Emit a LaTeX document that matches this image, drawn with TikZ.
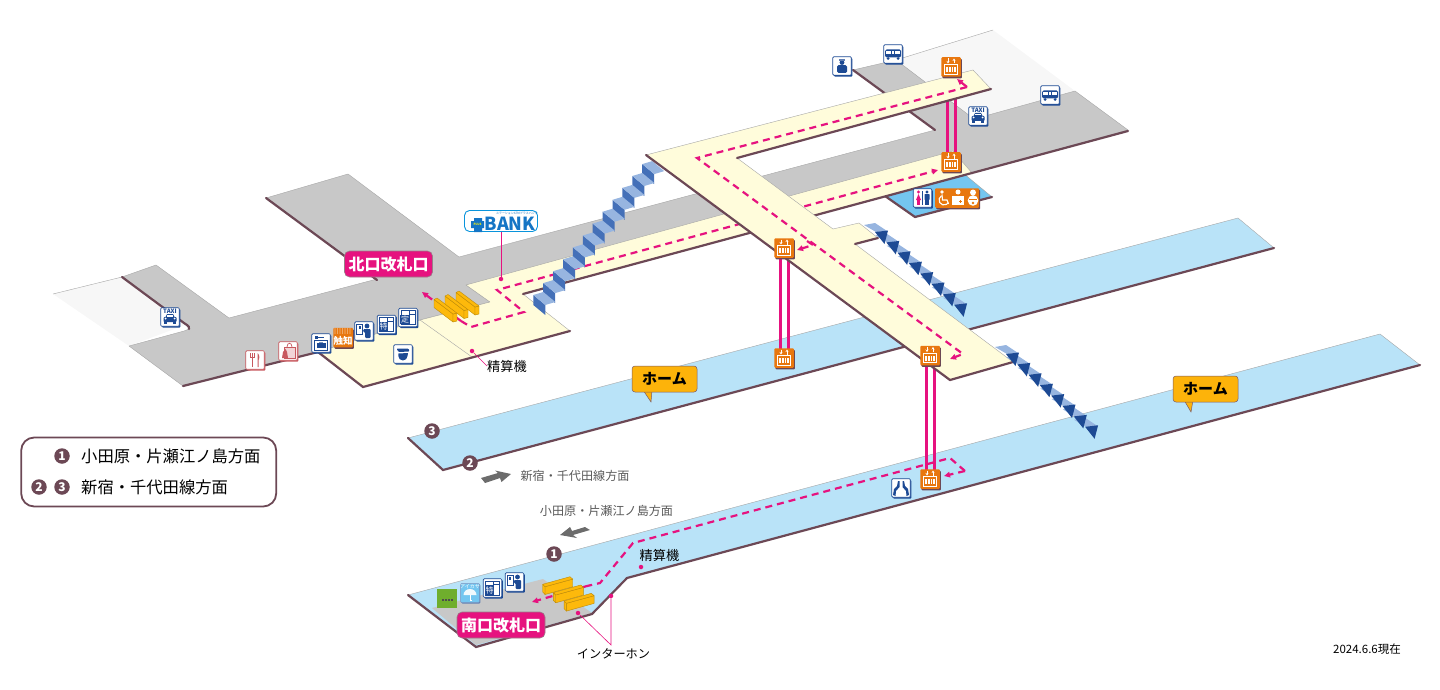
\documentclass[tikz,border=0pt]{standalone}
\usepackage{fontspec}
\setmainfont{Noto Sans CJK JP}
\usetikzlibrary{shapes,positioning,arrows.meta,shadows}
\definecolor{mygrey}{HTML}{C8C8C8}
\definecolor{mylight}{HTML}{F7F7F7}
\definecolor{mycream}{HTML}{FFFCDB}
\definecolor{myblue}{HTML}{B9E3F8}
\definecolor{mywc}{HTML}{74C6F0}
\definecolor{mybrown}{HTML}{6C4855}
\definecolor{mypink}{HTML}{E6127F}
\definecolor{mynavy}{HTML}{1D4A94}
\definecolor{myorange}{HTML}{E8770F}
\definecolor{mygold}{HTML}{FDB90B}
\definecolor{myred}{HTML}{C8595F}
\definecolor{mytread}{HTML}{97B5E0}
\definecolor{myriser}{HTML}{4470B8}
\definecolor{mygreen}{HTML}{6FAE2D}
\newcommand{\fs}[1]{\fontsize{#1}{#1}\selectfont}
\tikzset{
  elevpic/.pic={
    \draw[white,line width=.7] (-6.5,-2.5) rectangle (6.5,7);
    \foreach \i in {-4.6,-2,.7,3.2} \fill[white] (\i,0) rectangle +(1.5,5);
    \draw[white,line width=.8,-{Stealth[length=2.5pt,width=3pt]}] (-3,-8.5) -- (-3,-3.5);
    \draw[white,line width=.8,-{Stealth[length=2.5pt,width=3pt]}] (3,-3.5) -- (3,-8.5);
  },
  taxipic/.pic={
    \node[text=mynavy,inner sep=0] at (0,-5.5) {\fs{6}\bfseries TAXI};
    \fill[mynavy] (-4.5,0) -- (-3,-3) -- (3,-3) -- (4.5,0) -- cycle;
    \fill[mynavy,rounded corners=1] (-6.5,0) rectangle (6.5,5);
    \fill[white] (-2.7,-.5) rectangle (2.7,-2.2);
    \fill[mynavy] (-6,4) rectangle (-3,7);
    \fill[mynavy] (3,4) rectangle (6,7);
    \fill[white] (-4.5,1.5) circle (1);
    \fill[white] (4.5,1.5) circle (1);
  },
  buspic/.pic={
    \fill[mynavy,rounded corners=1.5] (-8,-4.5) rectangle (8,3.5);
    \foreach \i in {-6.8,-4,-1.2,1.6,4.4} \fill[white] (\i,-3) rectangle +(2.3,2.6);
    \fill[mynavy] (-5,4.5) circle (1.5);
    \fill[mynavy] (5,4.5) circle (1.5);
  },
  staffpic/.pic={
    \fill[mynavy] (0,-3.5) circle (2.4);
    \fill[mynavy!70] (-3,-7) rectangle (3,-5.3);
    \fill[mynavy,rounded corners=1.5] (-5,-.8) rectangle (5,7);
  },
  lockerpic/.pic={
    \fill[mynavy] (-6,-7) rectangle (-3.5,-4.5);
    \fill[mynavy] (-3.5,-6.3) rectangle (3,-5.3);
    \draw[mynavy,line width=.8] (-6.5,-3) rectangle (6.5,7);
    \fill[mynavy] (-4.5,0) rectangle (4.5,5);
    \fill[mynavy!60] (-2,-1.5) rectangle (2,0);
  },
  ticketpic/.pic={
    \draw[mynavy,line width=1] (-7.5,-7) rectangle (-1.5,3);
    \fill[mynavy] (-5.5,-5) rectangle (-3.5,-2);
    \fill[mynavy] (3,-5) circle (2.4);
    \fill[mynavy,rounded corners=1] (-.5,-2) -- (6.5,-2) -- (6.5,7) -- (1,7) -- (1,1) -- (-1,1) -- cycle;
  },
  copypic/.pic={
    \draw[mynavy,line width=.7] (-7,-7) rectangle (7,7);
    \draw[mynavy,line width=.6] (1,-3.5) -- (7,-3.5) (1,-7) -- (1,7);
    \node[fill=mynavy,text=white,inner sep=.3,minimum size=9.5] at (-3,2) {\fs{8}#1};
  },
  coppic/.pic={
    \fill[mynavy,rounded corners=1] (-6.5,-5.5) -- (5.5,-5.5) -- (6.5,-2.5) -- (-4.5,-2) -- cycle;
    \fill[mynavy] (-4.5,-.5) -- (5,-1) -- (4.5,2) arc (0:180:4.6 and 4.5) -- cycle;
  },
  forkpic/.pic={
    \draw[myred,line width=1] (-3,-7) -- (-3,7);
    \draw[myred,line width=.7] (-5,-7) -- (-5,-3) -- (-1,-3) -- (-1,-7);
    \fill[myred] (2.5,-7) .. controls (5,-5) and (4.5,-1) .. (3.5,0) -- (3.5,7) -- (2.5,7) -- cycle;
  },
  shoppic/.pic={
    \fill[myred!25] (-4,-4) rectangle (7,7);
    \draw[myred,line width=.7] (-4,-4) rectangle (7,7);
    \draw[myred,line width=.7] (-1,-4) .. controls (-1,-9) and (4,-9) .. (4,-4);
    \fill[myred] (-6,7) -- (-5,1) -- (-2.5,-2) -- (-1,1) -- (0,7) -- cycle;
  },
  touchpic/.pic={
    \foreach \i in {-8,-5.5,...,8} \foreach \j in {-8.5,-6.5,-4.5} \fill[white!75!myorange] (\i,\j) circle (.7);
    \node[text=white,inner sep=0] at (0,3) {\fs{9.5}\bfseries 触知};
  },
  handspic/.pic={
    \fill[mynavy] (-8,7) -- (-7,1) -- (-4,-2) -- (-3,-7) -- (-1.5,-7) -- (-1.5,-1) -- (-5,3) -- (-5.5,8) -- cycle;
    \fill[mynavy] (8,7) -- (7,1) -- (4,-2) -- (3,-7) -- (1.5,-7) -- (1.5,-1) -- (5,3) -- (5.5,8) -- cycle;
  },
  wcpic/.pic={
    \fill[mypink] (-4,-6) circle (1.7);
    \fill[mypink] (-4,-4) -- (-1.5,2) -- (-6.5,2) -- cycle;
    \fill[mypink] (-5.3,2) rectangle (-2.7,7);
    \fill[mynavy] (4.5,-6) circle (1.7);
    \fill[mynavy,rounded corners=.7] (2,-4) rectangle (7,2);
    \fill[mynavy] (2.7,2) rectangle (6.3,7);
    \draw[mynavy,line width=.6] (0,-7) -- (0,7);
  },
  carepic/.pic={
    \fill[white] (-15,-6) circle (1.9);
    \draw[white,line width=1.1] (-15,-3.5) -- (-14.5,2) -- (-10,2) -- (-8.5,6);
    \draw[white,line width=1.1] (-15.5,-2.3) arc (240:30:5);
    \fill[white] (1,-6) circle (2.5);
    \fill[white] (-5,-2.5) rectangle (7,7);
    \fill[myorange] (1.5,3) rectangle +(3,.9);
    \fill[myorange] (2.55,1.95) rectangle +(.9,3);
    \fill[white] (16,-5.5) circle (3);
    \fill[white] (16,2.5) circle (5.3);
    \fill[myorange] (12,1) rectangle (20,2);
    \fill[myorange] (16,5) circle (1.4);
  },
  umbrellapic/.pic={
    \node[text=white,inner sep=0] at (0,-6.5) {\fs{5}アイカサ};
    \fill[white!90!mywc] (-6.5,2) arc (180:360:6.5 and 6) -- cycle;
    \draw[white,line width=.6] (0,2) -- (0,7) -- (2,7);
  },
  myfloor/.style={fill=#1,draw=gray!70,line width=.4,line join=round},
  mythin/.style={gray!70,line width=.4},
  mydark/.style={mybrown,line width=2.2,line cap=round},
  myshaft/.style={mypink,line width=3},
  myroute/.style={mypink,line width=2.2,dash pattern=on 7pt off 5pt,
    -{Triangle[length=6pt,width=5.5pt]}},
  myleader/.style={mypink,line width=.6},
  mydot/.style={circle,fill=mypink,inner sep=0,minimum size=4.5},
  mybox/.style={rectangle,rounded corners=1,fill=white,draw=#1,line width=.7,minimum size=18.5,inner sep=0,
    drop shadow={shadow xshift=1.2pt,shadow yshift=-1.4pt,opacity=1,fill=#1}},
  myev/.style={rectangle,rounded corners=1,fill=myorange,minimum size=19.5,inner sep=0,
    drop shadow={shadow xshift=1.2pt,shadow yshift=-1.6pt,opacity=1,fill=mybrown}},
  mylabel/.style={rectangle,rounded corners=5,fill=mypink,draw=mybrown!70,line width=.6,text=white,
    minimum width=88,minimum height=26,inner sep=0,font=\fs{16}\bfseries},
  mytag/.style={rectangle,rounded corners=3,fill=mygold!90!orange,draw=mybrown!90,line width=.5,
    minimum width=65,minimum height=26,inner sep=0,font=\fs{15}\bfseries},
  mynum/.style={circle,fill=mybrown,text=white,inner sep=0,minimum size=15.5,font=\fs{12}\bfseries},
  mytext/.style={inner sep=0,font=\fs{#1}},
  mygate/.style={fill=mygold,draw=black!25!mygold,line width=.4,line join=round},
  mypointer/.style={fill=gray!85!black,draw=none},
}
\begin{document}
\begin{tikzpicture}[x=1pt,y=-1pt]
  \useasboundingbox (0,0) rectangle (1440,690);
  % platforms
  \draw[myfloor=myblue] (408,438) -- (1238,218) -- (1274,248) -- (443,470) -- cycle;
  \draw[mydark] (408,438) -- (443,470) -- (1274,248);
  \draw[myfloor=myblue] (408,595) -- (1380,334) -- (1420,365) -- (627,578) -- (592,614) -- (476,647) -- cycle;
  \fill[mygrey] (543,579) -- (432,608) -- (476,645) -- (592,613) -- cycle;
  \draw[mydark] (408,595) -- (476,647) -- (592,614) -- (627,578) -- (1420,365);
  % north concourse
  \fill[mylight] (53,294) -- (122,277) -- (185,325) -- (129,346) -- cycle;
  \draw[mythin] (53,294) -- (122,277);
  \fill[mylight] (896,60) -- (993,30) -- (1075,91) -- (974,119) -- cycle;
  \draw[mythin] (896,60) -- (993,30);
  \draw[myfloor=mygrey] (266,198) -- (348,174) -- (459,257) -- (935,130) -- (853,70) -- (896,60)
    -- (974,119) -- (1075,91) -- (1128,130) -- (972,173) -- (466,285) -- (490,302) -- (420,320)
    -- (318,352) -- (183,386) -- (129,346) -- (184,331) .. controls (191,329) and (190,326) .. (185,323)
    -- (122,277) -- (156,265) -- (229,318) -- (377,279) -- cycle;
  \draw[mydark] (266,198) -- (377,280);
  \draw[mydark] (122,277) -- (184,323) .. controls (189,326) and (190,328) .. (189,329);
  \draw[mydark] (183,386) -- (318,352);
  \draw[mydark] (853,70) -- (935,130);
  \draw[mydark] (972,173) -- (1128,131);
  \draw[myfloor=mywc] (885,196) -- (963,173) -- (992,197) -- (915,217) -- cycle;
  \draw[mydark] (885,196) -- (915,217) -- (992,197);
  \draw[myfloor=mycream] (466,285) -- (953,151) -- (972,173) -- (523,294) -- (570,331) -- (363,387) -- (318,352)
    -- (420,320) -- (490,302) -- cycle;
  \draw[mythin] (420,320) -- (472,357);
  \draw[mydark] (523,294) -- (972,173);
  \draw[mydark] (318,352) -- (363,387) -- (570,331);
  % elevator shafts
  \coordinate (ev1) at (951,67);
  \coordinate (ev2) at (951,162);
  \coordinate (ev3) at (784,248);
  \coordinate (ev4) at (784,358);
  \coordinate (ev5) at (930,355.5);
  \coordinate (ev6) at (930,479);
  \draw[myshaft] ([xshift=-4]ev1) -- ([xshift=-4]ev2);
  \draw[myshaft] ([xshift=4]ev1) -- ([xshift=4]ev2);
  \draw[myshaft] ([xshift=-4]ev3) -- ([xshift=-4]ev4);
  \draw[myshaft] ([xshift=4]ev3) -- ([xshift=4]ev4);
  \draw[myshaft] ([xshift=-4]ev5) -- ([xshift=-4]ev6);
  \draw[myshaft] ([xshift=4]ev5) -- ([xshift=4]ev6);
  % routes on the lower levels
  \coordinate (ra) at (461,321); \coordinate (rb) at (471,327); \coordinate (rc) at (524,312);
  \coordinate (rd) at (497,290); \coordinate (re) at (938,170);
  \coordinate (rf) at (422,292);
  \draw[myroute] (ra) -- (rf);
  \draw[myroute] (ra) -- (rb) -- (rc) -- (rd) -- (re);
  \coordinate (sa) at (944,476); \coordinate (sb) at (965,471); \coordinate (sc) at (950,458);
  \coordinate (sd) at (633,543); \coordinate (se) at (600,583); \coordinate (sf) at (587,586);
  \coordinate (sg) at (532,602);
  \draw[myroute] (sb) -- (sa);
  \draw[myroute,-] (sb) -- (sc) -- (sd) -- (se) -- (sf);
  \draw[myroute] (sf) -- (sg);
  % left stairs
  \foreach \k in {11,10,...,0} {
    \begin{scope}[shift={(533.3+9.9*\k,295-11.9*\k)}]
      \fill[myriser] (0,0) -- (12,10) -- (12,20) -- (0,10) -- cycle;
      \fill[mytread] (0,0) -- (10,-3) -- (22,7) -- (12,10) -- cycle;
    \end{scope}
  }
  % upper corridor
  \draw[myfloor=mycream] (646,155) -- (973,70) -- (991,89) -- (737,158) -- (833,229) -- (859,223) -- (878,238)
    -- (855,244) -- (1013,362) -- (950,380) -- cycle;
  \draw[mydark] (646,155) -- (950,380) -- (1013,362);
  \draw[mydark] (737,158) -- (991,89);
  \draw[mydark] (855,244) -- (878,238);
  \coordinate (ua) at (957,79); \coordinate (ub) at (967,87); \coordinate (uc) at (697,158);
  \coordinate (ud) at (963,354); \coordinate (ue) at (950,359); \coordinate (uf) at (807,241);
  \coordinate (ug) at (813,245); \coordinate (uh) at (797,250);
  \draw[myroute] (ub) -- (ua);
  \draw[myroute] (ub) -- (uc) -- (ud) -- (ue);
  \draw[myroute] (uf) -- (ug) -- (uh);
  % right stairs
  \foreach \ox/\oy in {876/232,1007/354} {
    \foreach \k in {0,...,7}
      \fill[mytread,shift={(\ox+11.3*\k,\oy+10.4*\k)}] (-12,-7) -- (-1,-9) -- (11,-1) -- (0,0) -- cycle;
    \foreach \k in {0,...,7}
      \fill[mynavy,shift={(\ox+11.3*\k,\oy+10.4*\k)}] (-1,0) -- (12,-1.5) -- (8.5,12) -- cycle;
  }
  % gates
  \foreach \k in {0,1,2} {
    \begin{scope}[shift={(434+11*\k,299.5-3.5*\k)}]
      \draw[mygate] (0,0) -- (19,14.5) -- (19,22.5) -- (0,8) -- cycle;
      \draw[mygate] (19,14.5) -- (23,13.5) -- (23,21.5) -- (19,22.5) -- cycle;
      \draw[mygate] (0,0) -- (3,-1.5) -- (23,13.5) -- (19,14.5) -- cycle;
    \end{scope}
    \begin{scope}[shift={(542.7+10.7*\k,584.3+8.3*\k)}]
      \draw[mygate] (2.3,2.4) -- (30,-5.2) -- (30,2.5) -- (2.3,10.2) -- cycle;
      \draw[mygate] (0,0) -- (2.3,2.4) -- (2.3,10.2) -- (0,7.8) -- cycle;
      \draw[mygate] (0,0) -- (27.3,-7.6) -- (30,-5.2) -- (2.3,2.4) -- cycle;
    \end{scope}
  }
  % elevator cars
  \node[myev] (eva) at (ev1) {};
  \node[myev] (evb) at (ev2) {};
  \node[myev] (evc) at (ev3) {};
  \node[myev] (evd) at (ev4) {};
  \node[myev] (eve) at (ev5) {};
  \node[myev] (evf) at (ev6) {};
  \foreach \e in {ev1,ev2,ev3,ev4,ev5,ev6} \pic at (\e) {elevpic};
  % icons
  \node[mybox=mynavy] (tx1) at (170,317) {}; \pic at (tx1) {taxipic};
  \node[mybox=mynavy] (tx2) at (978,116) {}; \pic at (tx2) {taxipic};
  \node[mybox=mynavy] (bs1) at (893,54) {}; \pic at (bs1) {buspic};
  \node[mybox=mynavy] (bs2) at (1050,95) {}; \pic at (bs2) {buspic};
  \node[mybox=mynavy] (st) at (842,66) {}; \pic at (st) {staffpic};
  \node[mybox=myred] (fk) at (255,360) {}; \pic at (fk) {forkpic};
  \node[mybox=myred] (sh) at (288,351) {}; \pic at (sh) {shoppic};
  \node[mybox=mynavy] (lk) at (321,343) {}; \pic at (lk) {lockerpic};
  \node[myev] (tc) at (343,337.5) {}; \pic at (tc) {touchpic};
  \node[mybox=mynavy] (tk1) at (364,331) {}; \pic at (tk1) {ticketpic};
  \node[mybox=mynavy] (cp1) at (386.5,324.5) {}; \pic at (cp1) {copypic={特}};
  \node[mybox=mynavy] (cp2) at (408,317.5) {}; \pic at (cp2) {copypic={定}};
  \node[mybox=mynavy] (cm) at (403,354) {}; \pic at (cm) {coppic};
  \node[mybox=mynavy] (hd) at (901,488) {}; \pic at (hd) {handspic};
  \node[mybox=mynavy] (wc) at (922.5,198) {}; \pic at (wc) {wcpic};
  \node[myev,minimum width=44,minimum height=19.5] (cr) at (957,198) {}; \pic at (cr) {carepic};
  \node[rectangle,fill=mygreen,minimum size=19.5,inner sep=0] (gr) at (447,598.5) {};
  \foreach \i in {-4.5,-1.5,1.5,4.5} \fill[black!70] ([xshift=\i-1]gr.center) rectangle +(2,2);
  \node[rectangle,rounded corners=1,fill=mywc,draw=mynavy!60,line width=.5,minimum size=19,inner sep=0,
    drop shadow={shadow xshift=.8pt,shadow yshift=-1pt,opacity=1,fill=mynavy!70}] (um) at (470,593) {};
  \pic at (um) {umbrellapic};
  \node[mybox=mynavy] (cp3) at (492.5,588) {}; \pic at (cp3) {copypic={特}};
  \node[mybox=mynavy] (tk2) at (514.5,582) {}; \pic at (tk2) {ticketpic};
  \node[rectangle,rounded corners=5,fill=white,draw=cyan!80!blue,line width=.9,minimum width=73,minimum height=21,
    inner sep=0] (bk) at (501,221) {};
  \node[inner sep=0,text=cyan!55!blue,font=\fs{18}\bfseries] (bktx) at (510,223.5) {BANK};
  \node[mytext=3,text=cyan!55!blue] (bksm) at (517,213.5) {ステーションATMプラスバンク};
  \fill[cyan!55!blue] (474,218) rectangle (482,232) (471,221) rectangle (484,228);
  \node[mytext=3,text=yellow] (bkpl) at (477.5,224.5) {\bfseries PLUS};
  % labels
  \draw[fill=mygold!90!orange,draw=mybrown!90,line width=.5] (643,390) -- (651,402) -- (652,390);
  \node[mytag] (hm1) at (664.5,379) {ホーム};
  \draw[fill=mygold!90!orange,draw=mybrown!90,line width=.5] (1184,400) -- (1191,412) -- (1193,400);
  \node[mytag] (hm2) at (1205.5,389) {ホーム};
  \node[mylabel] (nk) at (388.5,264) {北口改札口};
  \node[mylabel] (sk) at (501,625) {南口改札口};
  \node[mynum] (n3) at (432,431) {3};
  \node[mynum] (n2) at (470,463) {2};
  \node[mynum] (n1) at (554,554) {1};
  \node[mytext=12.1,text=black!65] (dr) at (575,476) {新宿・千代田線方面};
  \node[mytext=12.1,text=black!65] (dl) at (606.5,510.5) {小田原・片瀬江ノ島方面};
  \fill[mypointer] (481,478) -- (498,473) -- (495,470.5) -- (511,474) -- (501.5,482) -- (500,478) -- (485,483) -- cycle;
  \fill[mypointer] (590,530) -- (573,535) -- (577,538) -- (560,535) -- (570,527) -- (572,531) -- (585,527) -- cycle;
  % leader lines
  \node[mydot] (bkd) at (501,279) {};
  \draw[myleader] (bk) -- (bkd);
  \node[mytext=13.2] (sea) at (507,366) {精算機};
  \node[mydot] (sead) at (472,351) {};
  \draw[myleader] (sead) -- (sea.west);
  \node[mytext=13.2] (seb) at (659.5,555) {精算機};
  \node[mydot] (sebd) at (641,567) {};
  \node[mytext=12.2] (ih) at (613.5,654) {インターホン};
  \node[mydot] (iha) at (611,596) {};
  \node[mydot] (ihb) at (578,613) {};
  \coordinate (ihc) at (611,645);
  \draw[myleader] (iha) -- (ihc) -- (ihb);
  % legend
  \node[rectangle,rounded corners=13,draw=mybrown,line width=1.8,minimum width=255,minimum height=69,inner sep=0]
    (lg) at (148.7,472) {};
  \node[mynum] (la) at (62,456) {1};
  \node[mynum] (lb) at (39,487) {2};
  \node[mynum] (lc) at (62,487) {3};
  \node[mytext=16.3,anchor=west] (lt1) at (81,456) {小田原・片瀬江ノ島方面};
  \node[mytext=16.3,anchor=west] (lt2) at (81,487) {新宿・千代田線方面};
  \node[mytext=11.5] (dt) at (1367,649.5) {2024.6.6現在};
\end{tikzpicture}
\end{document}
